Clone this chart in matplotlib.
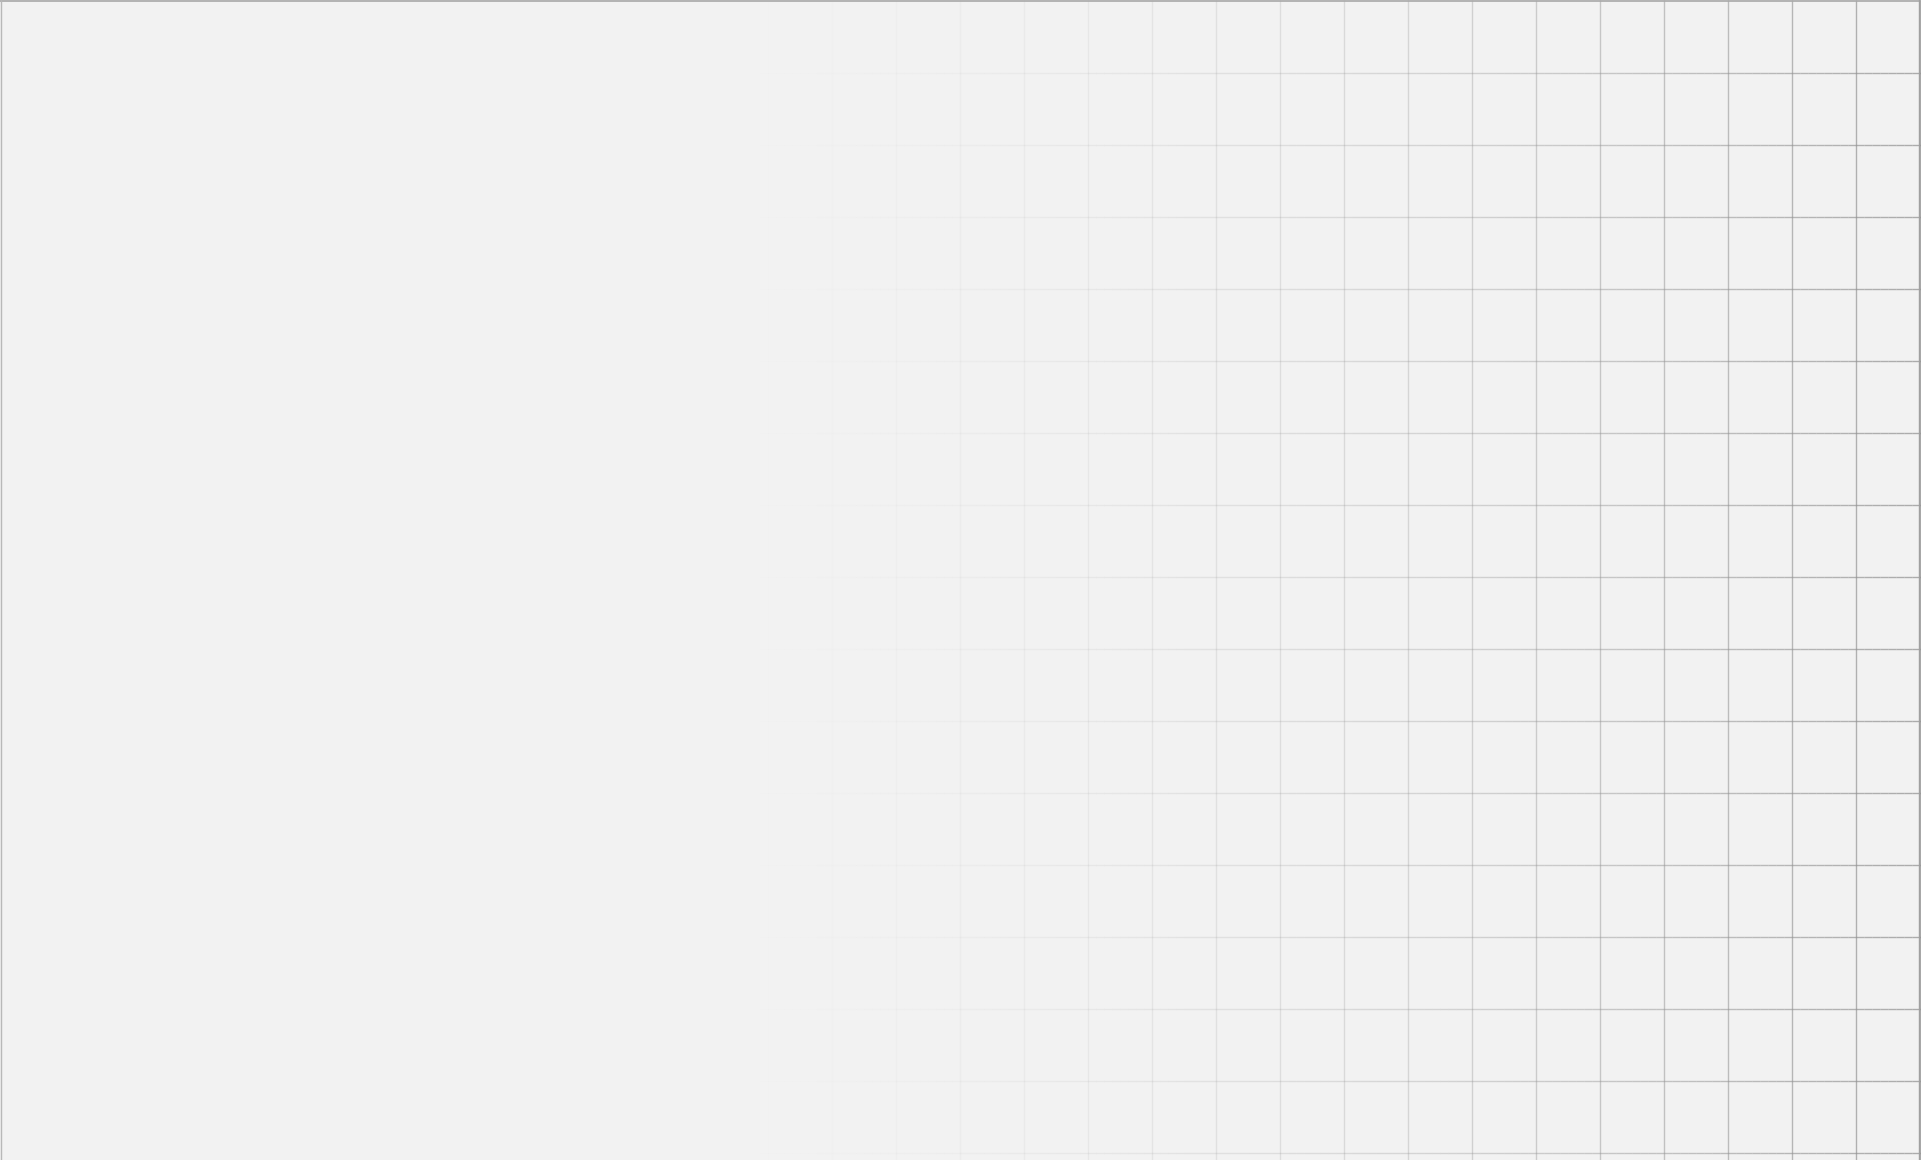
import matplotlib
matplotlib.use("Agg")
import matplotlib.pyplot as plt
from matplotlib.collections import LineCollection
import numpy as np

# grid definition (pixels)
width, height = 1921, 1160
col_step = 64
row_step = 72
row_offset = 1

col_x = np.arange(0, width, col_step)
row_y = np.arange(row_offset, height, row_step)


def fade(x):
    t = np.clip((x / width - 0.38) / 0.62, 0, 1)
    return 0.7 * t ** 1.6


fig = plt.figure(figsize=(width / 100, height / 100), dpi=100)
fig.patch.set_facecolor("#f2f2f2")
ax = fig.add_axes([0, 0, 1, 1])
ax.set_facecolor("#f2f2f2")
ax.set_xlim(0, width)
ax.set_ylim(height, 0)
ax.axis("off")

base = np.array([0.55, 0.55, 0.55])

# vertical lines
segs, cols = [], []
for x in col_x[1:]:
    segs.append([(x, 0), (x, height)])
    cols.append((*base, fade(x)))
ax.add_collection(LineCollection(segs, colors=cols, linewidths=1))

# horizontal lines, cut into short pieces so they fade left to right
xs = np.arange(0, width + 8, 8)
segs, cols = [], []
for y in row_y[1:]:
    for a, b in zip(xs[:-1], xs[1:]):
        segs.append([(a, y), (b, y)])
        cols.append((*base, fade((a + b) / 2)))
ax.add_collection(LineCollection(segs, colors=cols, linewidths=1))

# frame
ax.plot([0, width], [1, 1], color="#a8a8a8", lw=1.2)
ax.plot([0.5, 0.5], [0, height], color="#b8b8b8", lw=1)
ax.plot([width - 2, width - 2], [0, height], color="#a0a0a0", lw=1)

fig.savefig("out.png", dpi=100, facecolor=fig.get_facecolor())
